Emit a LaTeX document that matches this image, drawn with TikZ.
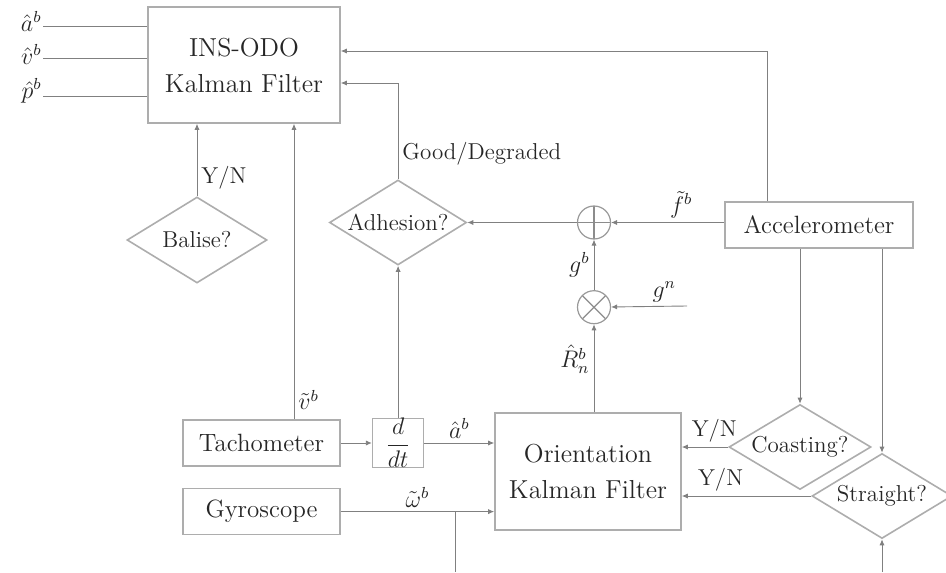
\documentclass[tikz,border=0pt]{standalone}
\usepackage{amsmath,amssymb}
\usepackage{tikz}
\usetikzlibrary{arrows.meta,positioning,shapes.geometric}

\begin{document}
\begin{tikzpicture}[
  x=1pt, y=1pt,
  lbl/.style={font=\fontsize{11.5}{14}\selectfont, text=black!85, inner sep=2pt},
  box/.style={draw=black!32, line width=0.8pt, text=black!85, align=center,
    inner sep=2pt, font=\fontsize{12.5}{15}\selectfont},
  filter/.style={box, font=\fontsize{13}{18}\selectfont, minimum width=96pt, minimum height=58pt},
  sensor/.style={box, minimum width=78.5pt, minimum height=23pt},
  decision/.style={draw=black!32, line width=0.8pt, diamond, aspect=1.7, inner sep=0pt,
    text=black!85, font=\fontsize{11.5}{14}\selectfont},
  junction/.style={draw=black!40, line width=0.6pt, circle, minimum size=16.5pt, inner sep=0pt},
  sum/.style={junction, path picture={\draw[black!45]
    (path picture bounding box.north) -- (path picture bounding box.south)
    (path picture bounding box.west) -- (path picture bounding box.east);}},
  mult/.style={junction, path picture={\draw[black!45]
    (path picture bounding box.north west) -- (path picture bounding box.south east)
    (path picture bounding box.south west) -- (path picture bounding box.north east);}},
  flow/.style={-{Latex[length=3pt,width=2.6pt]}, draw=black!50, line width=0.45pt},
  wire/.style={draw=black!50, line width=0.45pt}
]
\useasboundingbox (0,0) rectangle (473,-286);

\node[filter] (ins) at (122,-32.5) {INS-ODO\\Kalman Filter};
\node[decision, minimum width=70pt, minimum height=43pt] (balise) at (98.5,-120) {Balise?};
\node[decision, minimum width=68.5pt, minimum height=42.5pt] (adhesion) at (199,-111.25) {Adhesion?};
\node[sum] (add) at (297,-111.25) {};
\node[mult, below=25.25pt of add] (rotate) {};
\node[box, minimum width=94pt, minimum height=23pt] (accel) at (409.5,-112.5) {Accelerometer};
\node[sensor] (tacho) at (130.75,-221.5) {Tachometer};
\node[sensor, below=10.5pt of tacho] (gyro) {Gyroscope};
\node[box, font=\fontsize{13}{15}\selectfont, minimum width=25.5pt, minimum height=23pt,
  inner sep=0pt, right=15.5pt of tacho] (ddt) {$\dfrac{d}{dt}$};
\node[filter, minimum width=93pt, minimum height=58.5pt] (okf) at (294,-235.75) {Orientation\\Kalman Filter};
\node[decision, minimum width=71pt, minimum height=42.5pt] (coasting) at (400,-223.5) {Coasting?};
\node[decision, minimum width=70pt, minimum height=42.5pt] (straight) at (441,-248) {Straight?};

% estimates leaving the INS-ODO filter
\coordinate (aout) at (21.5,-13.3);
\coordinate (vout) at (21.5,-29.2);
\coordinate (pout) at (21.5,-48.3);
\node[lbl, left, yshift=2.5pt, inner sep=0.5pt] (alab) at (aout) {$\hat{a}^b$};
\node[lbl, left, yshift=2pt, inner sep=0.5pt] (vlab) at (vout) {$\hat{v}^b$};
\node[lbl, left, yshift=3pt, inner sep=0.5pt] (plab) at (pout) {$\hat{p}^b$};
\draw[wire] (ins.west |- aout) -- (aout);
\draw[wire] (ins.west |- vout) -- (vout);
\draw[wire] (ins.west |- pout) -- (pout);

% inputs of the INS-ODO filter
\coordinate (atap) at ([xshift=-26pt]accel.north);
\coordinate (vtap) at ([xshift=16.25pt]tacho.north);
\draw[flow] (atap) |- ([yshift=7pt]ins.east);
\draw[flow] (adhesion.north) |- node[lbl, right, pos=.13] (quality) {Good/Degraded} ([yshift=-9pt]ins.east);
\draw[flow] (balise.north) -- node[lbl, right, pos=.25] (baliseans) {Y/N} (balise.north |- ins.south);
\draw[flow] (vtap) -- node[lbl, right, pos=.065] (vtlab) {$\tilde{v}^b$} (vtap |- ins.south);

% sensors into the orientation filter
\draw[flow] (tacho) -- (ddt);
\draw[flow] (ddt.north) -- (ddt.north |- adhesion.south);
\draw[flow] (ddt) -- node[lbl, above] (atlab) {$\hat{a}^b$} (ddt -| okf.west);
\draw[flow] (gyro) -- node[lbl, above] (wlab) {$\tilde{\omega}^b$} (gyro -| okf.west);
\coordinate (wdown) at (227.5,-286);
\draw[wire] (gyro.east -| wdown) -- (wdown);

% gravity compensation
\coordinate (gin) at (343.5,-153);
\draw[flow] (rotate |- okf.north) -- node[lbl, left, pos=.6] (rlab) {$\hat{R}^b_n$} (rotate);
\draw[flow] (rotate) -- node[lbl, left] (gblab) {$g^b$} (add);
\draw[flow] (gin) -- node[lbl, above, pos=.3] (gnlab) {$g^n$} (rotate);
\draw[flow] (accel.west |- add) -- node[lbl, above, pos=.38] (flab) {$\tilde{f}^b$} (add);
\draw[flow] (add) -- (adhesion);

% motion checks
\draw[flow] (accel.south -| coasting.north) -- (coasting.north);
\draw[flow] (accel.south -| straight.north) -- (straight.north);
\draw[flow] (coasting.west) -- node[lbl, above, pos=.3] (coastans) {Y/N} (coasting.west -| okf.east);
\draw[flow] (straight.west) -- node[lbl, above, pos=.7] (straightans) {Y/N} (straight.west -| okf.east);
\coordinate (sin) at (441,-286);
\draw[flow] (sin) -- (straight.south);
\end{tikzpicture}
\end{document}
